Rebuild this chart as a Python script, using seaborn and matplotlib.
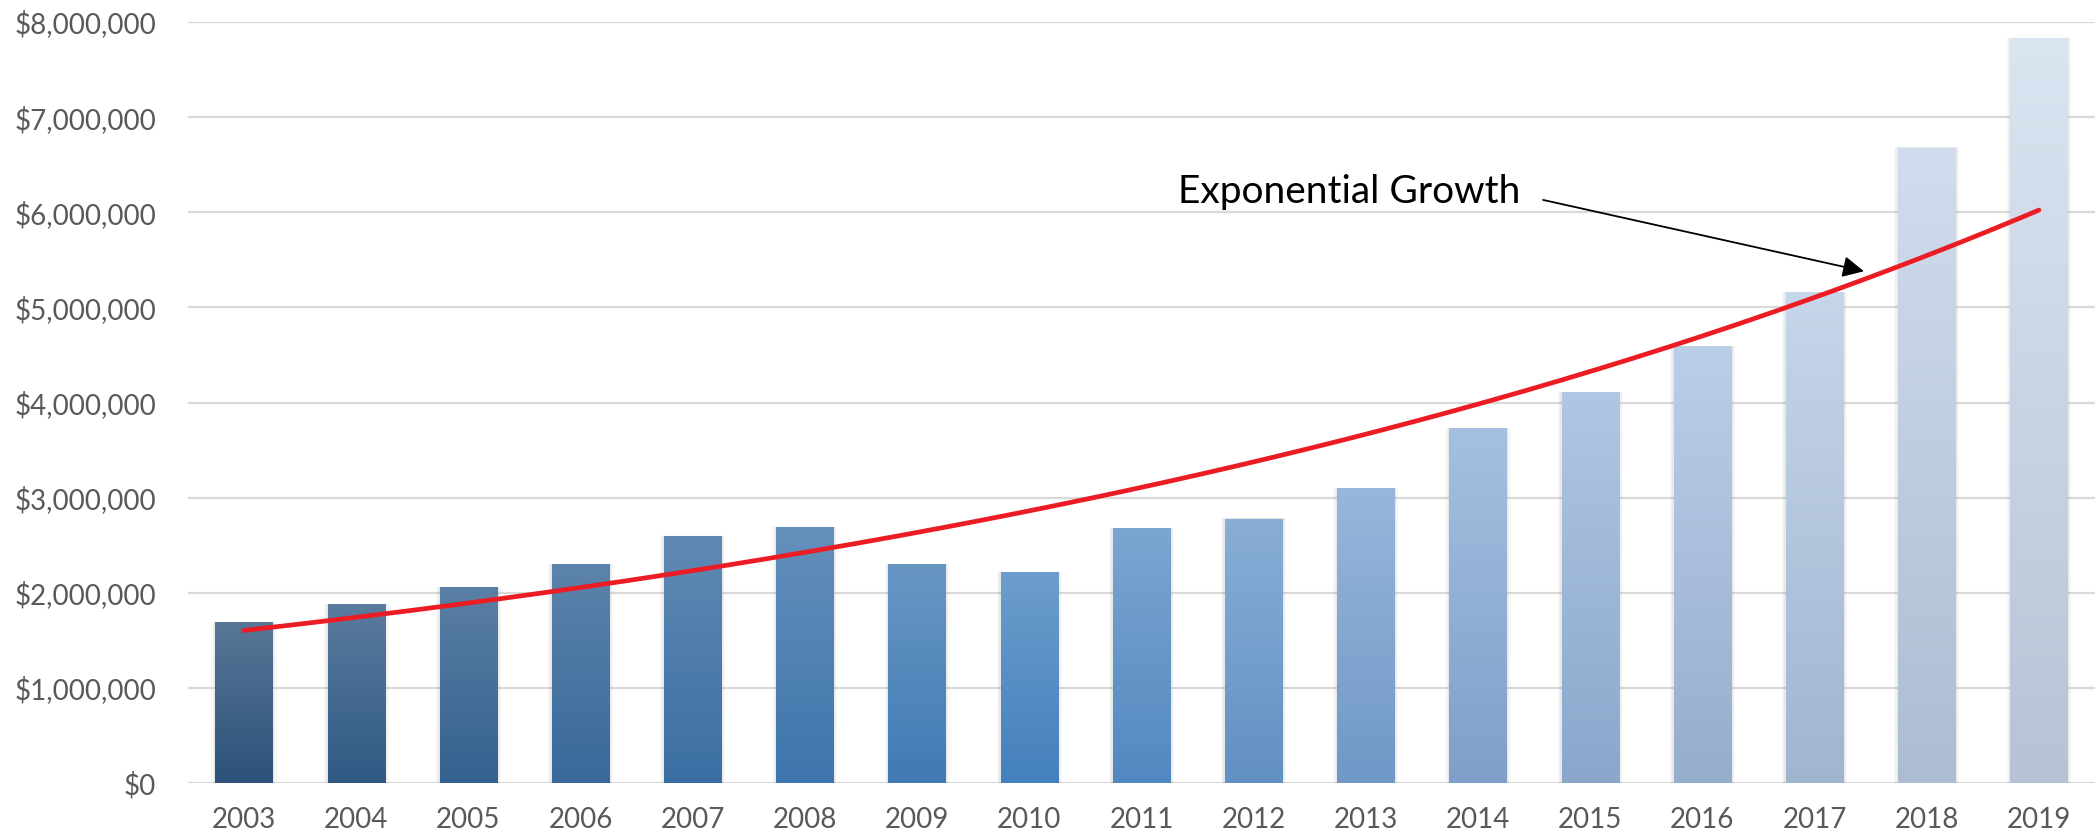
import numpy as np
import pandas as pd
import matplotlib
matplotlib.use('Agg')
import matplotlib.pyplot as plt
import seaborn as sns
from matplotlib.colors import LinearSegmentedColormap, to_rgb
from matplotlib.patches import Rectangle
from matplotlib.ticker import FuncFormatter

# data
years = ['2003', '2004', '2005', '2006', '2007', '2008', '2009', '2010', '2011',
         '2012', '2013', '2014', '2015', '2016', '2017', '2018', '2019']
revenue = [1690000, 1880000, 2060000, 2300000, 2600000, 2690000, 2300000, 2220000, 2680000,
           2780000, 3100000, 3730000, 4110000, 4590000, 5160000, 6680000, 7830000]
annotation_text = 'Exponential Growth'

df = pd.DataFrame({'year': years, 'revenue': revenue})

# bar gradient anchors (bar position -> colour)
anchor_pos = [0, 3, 7, 11, 16]
top_colors = ['#587797', '#5c83ab', '#6c9dcc', '#a5bfe0', '#dbe4f1']
bottom_colors = ['#2c5279', '#38699a', '#4380bd', '#7e9fc9', '#b7c3d5']

sns.set_theme(style='white')
plt.rcParams['font.family'] = ['Lato', 'DejaVu Sans']

fig = plt.figure(figsize=(20.95, 8.38), dpi=100)
ax = fig.add_axes([0.0897, 0.0656, 0.9103, 0.9081])

sns.barplot(data=df, x='year', y='revenue', width=0.51, color='#4380bd',
            saturation=1, linewidth=0, edgecolor='none', ax=ax, zorder=3)

n = len(years)
top_cmap = LinearSegmentedColormap.from_list(
    'top', [(p / (n - 1), c) for p, c in zip(anchor_pos, top_colors)])
bot_cmap = LinearSegmentedColormap.from_list(
    'bot', [(p / (n - 1), c) for p, c in zip(anchor_pos, bottom_colors)])

for i, patch in enumerate(list(ax.patches)):
    x0, w, h = patch.get_x(), patch.get_width(), patch.get_height()
    c_top = np.array(to_rgb(top_cmap(i / (n - 1))))
    c_bot = np.array(to_rgb(bot_cmap(i / (n - 1))))
    patch.set_facecolor(c_bot)
    # soft shadow around the bar
    for k, a in [(0.10, 0.04), (0.07, 0.06), (0.04, 0.08)]:
        ax.add_patch(Rectangle((x0 - k * 0.35, 0), w + k * 0.7, h + k * 30000,
                               facecolor='#7f7f7f', edgecolor='none', alpha=a, zorder=2))
    t = np.linspace(0, 1, 256)[:, None, None]
    grad = c_bot + (c_top - c_bot) * t
    im = ax.imshow(grad, extent=(x0, x0 + w, 0, h), origin='lower', aspect='auto',
                   zorder=4, interpolation='bilinear')
    im.set_clip_path(patch)

# exponential trendline (least squares on log values, as a spreadsheet does)
xi = np.arange(n)
b, a = np.polyfit(xi, np.log(revenue), 1)
xs = np.linspace(0, n - 1, 200)
trend = np.exp(a + b * xs)
sns.lineplot(x=xs, y=trend, color='#ec1c24', lw=3.4, ax=ax, zorder=6)
ax.lines[-1].set_solid_capstyle('round')

ax.set_xlim(-0.5, n - 0.5)
ax.set_ylim(0, 8000000)
ax.set_yticks(np.arange(0, 8000001, 1000000))
ax.yaxis.set_major_formatter(FuncFormatter(lambda v, p: f'${v:,.0f}'))
ax.grid(axis='y', color='#d9d9d9', lw=1.6)
ax.grid(axis='x', visible=False)
ax.set_axisbelow(True)
for s in ax.spines.values():
    s.set_visible(False)
ax.set_xlabel('')
ax.set_ylabel('')
ax.tick_params(axis='y', length=0, pad=23, labelsize=20, labelcolor='#595959')
ax.tick_params(axis='x', length=0, pad=17, labelsize=20, labelcolor='#595959')

ax.annotate('', xy=(14.44, 5380000), xytext=(11.58, 6130000),
            arrowprops=dict(arrowstyle='-|>', color='black', lw=1.3,
                            mutation_scale=32, shrinkA=0, shrinkB=0), zorder=7)
ax.text(11.38, 6210000, annotation_text, ha='right', va='center',
        fontsize=28, color='black', zorder=7)

fig.savefig('out.png', dpi=100)
plt.close(fig)
